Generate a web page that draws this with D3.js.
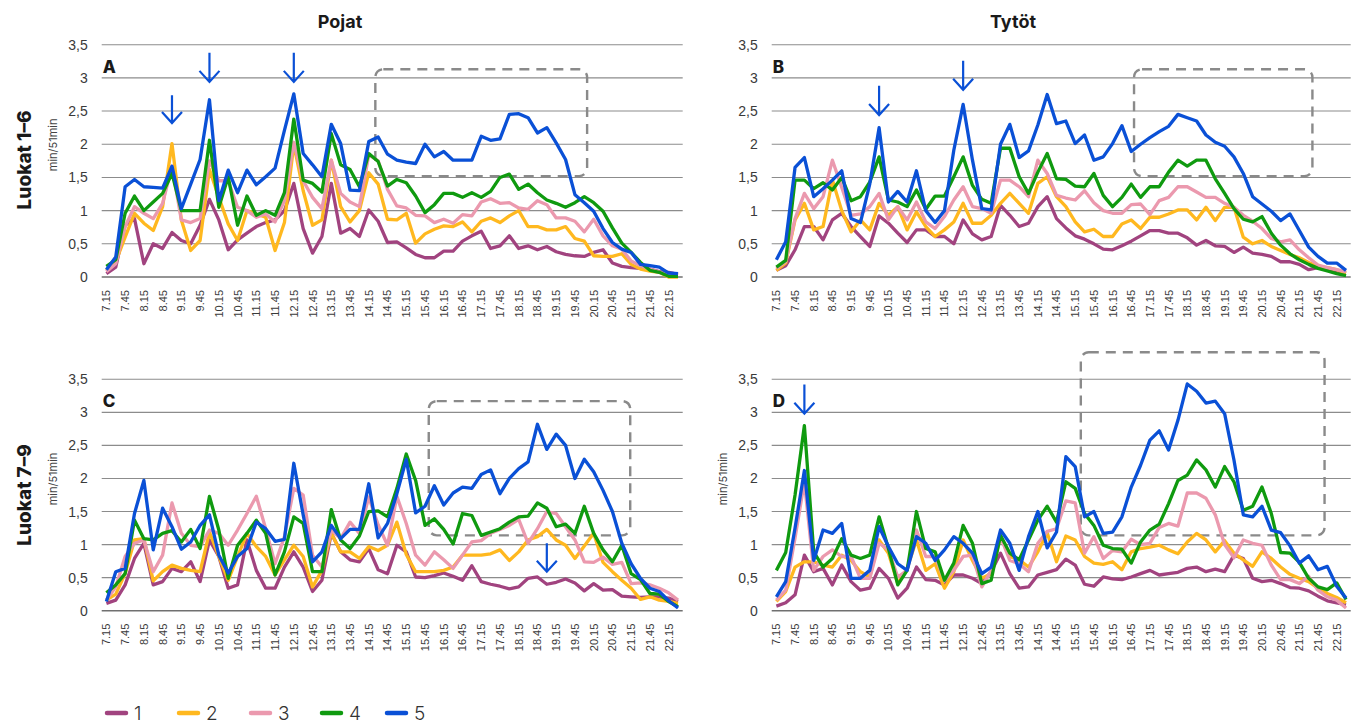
<!DOCTYPE html>
<html>
<head>
<meta charset="utf-8">
<script src="https://cdn.jsdelivr.net/npm/d3@7"></script>
<style>
  body { margin: 0; background: #fff; }
  svg { display: block; font-family: Inter, "Noto Sans", sans-serif; }
</style>
</head>
<body>
<div id="chart"></div>
<script>
// time slots (15 min)
const times = ["7.15","7.30","7.45","8.00","8.15","8.30","8.45","9.00","9.15","9.30",
  "9.45","10.00","10.15","10.30","10.45","11.00","11.15","11.30","11.45","12.00",
  "12.15","12.30","12.45","13.00","13.15","13.30","13.45","14.00","14.15","14.30",
  "14.45","15.00","15.15","15.30","15.45","16.00","16.15","16.30","16.45","17.00",
  "17.15","17.30","17.45","18.00","18.15","18.30","18.45","19.00","19.15","19.30",
  "19.45","20.00","20.15","20.30","20.45","21.00","21.15","21.30","21.45","22.00",
  "22.15","22.30"];
const yTicks = [0, 0.5, 1, 1.5, 2, 2.5, 3, 3.5];
const seriesNames = ["1", "2", "3", "4", "5"];
const colors = ["#a1437f", "#ffb81f", "#eb99ae", "#0f9a0f", "#0a50d6"];

// A: Pojat, luokat 1-6
const A1 = [0.05,0.15,0.78,0.88,0.2,0.5,0.43,0.67,0.55,0.5, 0.78,1.17,0.86,0.41,0.56,0.66,0.76,0.82,0.86,1.0,
  1.41,0.73,0.36,0.61,1.41,0.66,0.73,0.61,1.01,0.84, 0.52,0.53,0.44,0.34,0.29,0.29,0.39,0.39,0.54,0.62,
  0.69,0.43,0.47,0.62,0.43,0.47,0.41,0.46,0.38,0.34, 0.32,0.31,0.37,0.41,0.21,0.16,0.14,0.13,0.12,0.08, 0.07,0.04];
const A2 = [0.1,0.23,0.6,0.96,0.81,0.7,1.06,2.01,0.86,0.4, 0.55,1.62,1.2,0.8,0.55,1.0,0.95,0.9,0.4,0.82,
  2.0,1.3,0.78,0.86,1.76,1.06,0.83,1.0,1.57,1.4, 0.87,0.86,0.96,0.51,0.65,0.72,0.77,0.76,0.83,0.68,
  0.84,0.89,0.82,0.92,1.0,0.76,0.76,0.71,0.71,0.76, 0.58,0.54,0.32,0.31,0.31,0.35,0.19,0.12,0.09,0.07, 0.0,0.0];
const A3 = [0.08,0.2,0.76,1.06,0.96,0.88,1.11,1.67,0.86,0.82, 0.88,1.75,1.45,1.45,1.05,1.0,0.9,0.95,0.83,1.15,
  2.03,1.45,1.2,1.03,1.76,1.26,1.13,1.06,1.84,1.75, 1.32,1.07,1.04,0.93,0.92,0.82,0.87,0.81,0.94,0.92,
  1.13,1.18,1.11,1.12,1.04,1.02,1.15,1.09,0.89,0.89, 0.84,0.68,0.87,0.62,0.47,0.42,0.24,0.17,0.12,0.07, 0.04,0.02];
const A4 = [0.16,0.26,0.96,1.22,1.0,1.13,1.26,1.56,1.0,1.0, 1.0,2.06,1.05,1.51,0.78,1.22,0.93,1.0,0.93,1.27,
  2.38,1.46,1.41,1.28,2.16,1.69,1.62,1.36,1.86,1.74, 1.37,1.47,1.42,1.22,0.97,1.09,1.26,1.26,1.2,1.27,
  1.2,1.29,1.5,1.55,1.32,1.4,1.27,1.16,1.11,1.05, 1.12,1.21,1.12,0.99,0.74,0.51,0.37,0.22,0.1,0.07, 0.01,0.01];
const A5 = [0.11,0.3,1.36,1.47,1.36,1.35,1.34,1.67,1.03,1.4, 1.77,2.67,1.15,1.61,1.27,1.61,1.39,1.51,1.64,2.21,
  2.76,1.86,1.69,1.51,2.3,2.01,1.31,1.3,2.04,2.11, 1.85,1.76,1.73,1.71,2.0,1.81,1.89,1.76,1.76,1.76,
  2.12,2.06,2.08,2.45,2.46,2.4,2.17,2.25,2.02,1.77, 1.24,1.12,0.99,0.73,0.52,0.42,0.37,0.19,0.17,0.15, 0.06,0.05];

// B: Tytöt, luokat 1-6
const B1 = [0.1,0.17,0.41,0.76,0.76,0.56,0.86,0.96,0.76,0.61, 0.46,0.92,0.81,0.66,0.52,0.71,0.71,0.61,0.61,0.5,
  0.86,0.65,0.56,0.61,1.08,0.93,0.76,0.81,1.06,1.21, 0.88,0.74,0.62,0.57,0.5,0.42,0.41,0.47,0.54,0.62,
  0.7,0.7,0.66,0.66,0.59,0.48,0.55,0.47,0.46,0.37, 0.45,0.36,0.34,0.31,0.23,0.23,0.19,0.11,0.14,0.11, 0.09,0.06];
const B2 = [0.1,0.21,0.86,1.11,0.71,0.76,1.46,1.0,0.68,0.86, 0.71,1.11,0.93,1.06,0.71,0.98,0.76,0.61,0.71,0.83,
  1.11,0.81,0.81,0.93,1.11,1.26,1.11,0.96,1.41,1.51, 1.21,1.06,0.83,0.68,0.72,0.61,0.61,0.8,0.86,0.73,
  0.9,0.9,0.95,1.01,1.01,0.86,1.05,0.85,1.05,1.05, 0.6,0.5,0.55,0.46,0.4,0.34,0.29,0.22,0.16,0.14, 0.11,0.06];
const B3 = [0.13,0.23,0.88,1.26,1.03,1.21,1.76,1.35,0.93,0.95, 1.06,1.26,0.86,1.06,0.86,1.13,0.83,0.73,0.91,1.16,
  1.36,1.06,1.03,0.96,1.46,1.46,1.36,1.21,1.76,1.56, 1.23,1.19,1.16,1.3,1.12,1.0,0.96,0.96,1.09,1.1,
  0.94,1.15,1.2,1.36,1.36,1.28,1.2,1.2,1.11,1.05, 0.93,0.84,0.73,0.58,0.53,0.56,0.41,0.29,0.18,0.14, 0.11,0.08];
const B4 = [0.15,0.25,1.46,1.46,1.33,1.42,1.31,1.5,1.15,1.21, 1.43,1.81,1.16,1.13,1.06,1.31,1.02,1.22,1.22,1.51,
  1.81,1.38,1.17,1.11,1.94,1.94,1.51,1.26,1.58,1.86, 1.48,1.47,1.37,1.36,1.56,1.23,1.06,1.2,1.4,1.2,
  1.36,1.36,1.58,1.76,1.67,1.76,1.76,1.48,1.26,1.03, 0.87,0.83,0.91,0.66,0.48,0.35,0.26,0.19,0.13,0.09, 0.05,0.02];
const B5 = [0.26,0.53,1.65,1.8,1.21,1.33,1.46,1.6,0.88,0.82, 1.4,2.25,1.13,1.29,1.13,1.6,1.0,0.82,1.0,1.91,
  2.6,1.76,1.03,1.01,2.0,2.3,1.8,1.9,2.29,2.75, 2.31,2.35,2.01,2.14,1.76,1.81,2.01,2.28,1.89,2.0,
  2.1,2.19,2.27,2.45,2.4,2.35,2.14,2.03,1.97,1.81, 1.56,1.21,1.1,0.99,0.85,0.95,0.7,0.45,0.31,0.21, 0.21,0.1];

// C: Pojat, luokat 7-9
const C1 = [0.11,0.16,0.39,0.79,1.02,0.39,0.44,0.64,0.59,0.74, 0.44,1.07,0.82,0.34,0.39,1.07,0.61,0.34,0.34,0.66,
  0.89,0.66,0.29,0.46,1.17,0.89,0.77,0.74,0.94,0.62, 0.56,0.99,0.89,0.51,0.5,0.53,0.57,0.52,0.46,0.68,
  0.44,0.4,0.37,0.33,0.36,0.49,0.51,0.4,0.43,0.48, 0.42,0.3,0.41,0.31,0.32,0.22,0.21,0.2,0.21,0.21, 0.19,0.14];
const C2 = [0.16,0.25,0.56,1.07,1.09,0.45,0.59,0.69,0.64,0.61, 0.59,1.19,0.82,0.46,0.82,1.17,0.97,0.82,0.54,0.77,
  0.99,0.82,0.36,0.61,1.17,0.89,0.89,0.79,0.97,0.91, 0.99,1.34,0.85,0.59,0.59,0.59,0.61,0.66,0.84,0.84,
  0.84,0.86,0.92,0.76,0.89,1.07,1.12,1.23,1.07,0.99, 0.79,0.98,1.17,0.73,0.59,0.46,0.34,0.17,0.21,0.16, 0.14,0.11];
const C3 = [0.16,0.36,0.82,1.02,1.07,0.59,0.84,1.63,1.17,0.99, 0.97,1.22,1.17,0.99,1.22,1.47,1.73,1.24,0.71,1.12,
  1.85,1.75,0.84,0.66,1.22,1.09,1.34,1.17,1.72,1.3, 0.99,1.73,1.32,0.84,0.69,0.89,0.77,0.64,0.84,1.04,
  1.06,1.17,1.23,1.29,1.38,1.02,1.24,1.5,1.47,1.27, 1.07,0.74,0.73,0.81,0.7,0.73,0.41,0.42,0.39,0.34, 0.27,0.16];
const C4 = [0.27,0.39,0.56,1.37,1.09,1.07,1.17,1.21,1.04,1.23, 0.94,1.73,1.22,0.49,0.99,1.17,1.37,1.17,0.54,0.89,
  1.42,1.32,0.59,0.59,1.53,1.07,0.94,1.13,1.5,1.51, 1.42,1.85,2.37,1.97,1.29,1.39,1.23,1.01,1.47,1.44,
  1.14,1.19,1.24,1.34,1.42,1.43,1.63,1.55,1.27,1.31, 1.17,1.58,1.17,0.92,0.74,0.99,0.56,0.47,0.26,0.25, 0.14,0.06];
const C5 = [0.14,0.59,0.64,1.47,1.97,0.92,1.55,1.27,0.93,1.04, 1.29,1.45,0.84,0.57,0.82,0.94,1.34,1.24,1.05,1.08,
  2.23,1.45,0.74,0.89,1.29,1.09,1.23,1.23,1.92,1.1, 1.32,1.77,2.29,1.48,1.58,1.89,1.6,1.78,1.87,1.85,
  2.06,2.13,1.77,2.0,2.15,2.25,2.82,2.44,2.67,2.5, 2.0,2.29,2.1,1.82,1.5,1.02,0.71,0.49,0.34,0.29, 0.15,0.04];

// D: Tytöt, luokat 7-9
const D1 = [0.07,0.12,0.24,0.84,0.59,0.64,0.39,0.69,0.44,0.31, 0.34,0.64,0.49,0.19,0.34,0.66,0.47,0.46,0.39,0.54,
  0.54,0.49,0.41,0.59,0.87,0.56,0.34,0.36,0.54,0.58, 0.62,0.78,0.69,0.4,0.37,0.51,0.48,0.47,0.51,0.56,
  0.61,0.54,0.56,0.58,0.64,0.66,0.59,0.63,0.59,0.84, 0.79,0.49,0.44,0.46,0.41,0.35,0.34,0.3,0.22,0.15, 0.12,0.09];
const D2 = [0.14,0.29,0.66,0.74,0.74,0.69,0.66,0.84,0.76,0.59, 0.51,1.07,0.87,0.41,0.64,1.07,0.61,0.71,0.34,0.59,
  1.07,0.76,0.49,0.56,1.12,0.82,0.77,0.66,0.89,1.18, 0.74,1.13,1.07,0.82,0.72,0.7,0.74,0.62,0.89,0.94,
  0.96,0.99,0.92,0.86,1.04,1.17,1.07,0.89,1.06,0.87, 0.77,0.67,0.89,0.79,0.66,0.55,0.49,0.44,0.34,0.26, 0.2,0.12];
const D3 = [0.16,0.31,1.1,1.95,0.61,0.82,0.92,0.82,0.82,0.49, 0.49,1.02,0.92,0.51,0.61,1.22,0.82,0.82,0.46,0.61,
  0.82,0.84,0.36,0.61,1.12,0.76,0.71,0.59,1.02,1.2, 1.24,1.66,1.63,0.87,1.12,0.79,0.91,0.89,1.08,1.0,
  1.02,1.26,1.32,1.28,1.78,1.78,1.7,1.45,1.0,0.8, 1.07,1.02,0.99,0.69,0.47,0.47,0.41,0.52,0.31,0.21, 0.16,0.04];
const D4 = [0.61,0.88,1.75,2.8,0.89,0.66,0.79,1.09,0.84,0.79, 0.84,1.42,0.94,0.39,0.61,1.5,0.94,0.89,0.46,0.72,
  1.29,1.02,0.41,0.46,1.14,0.87,0.77,1.07,1.37,1.58, 1.34,1.95,1.85,1.47,1.29,0.99,0.94,0.93,0.72,1.04,
  1.22,1.31,1.62,1.97,2.05,2.28,2.13,1.87,2.18,1.95, 1.52,1.58,1.87,1.47,0.88,0.87,0.73,0.49,0.36,0.32, 0.42,0.17];
const D5 = [0.21,0.44,1.25,2.12,0.76,1.22,1.17,1.32,0.49,0.49, 0.61,1.27,0.97,0.71,0.61,1.12,1.02,0.76,0.92,1.12,
  1.02,0.87,0.56,0.66,1.22,1.02,0.61,1.12,1.5,0.95, 1.19,2.33,2.18,1.42,1.5,1.17,1.19,1.42,1.87,2.2,
  2.58,2.72,2.43,2.88,3.43,3.32,3.14,3.17,2.98,2.28, 1.45,1.42,1.58,1.22,1.18,0.98,0.72,0.83,0.62,0.67, 0.37,0.19];

// annotations: arrows (slot index, value of tail, value of tip), dashed boxes (slot range, value range)
const arrowsA = [[7, 2.74, 2.32], [11, 3.38, 2.94], [20, 3.38, 2.94]];
const arrowsB = [[11, 2.88, 2.44], [20, 3.26, 2.82]];
const arrowsC = [[47, 1.02, 0.59]];
const arrowsD = [[3, 3.42, 2.98]];
const boxA = [28.7, 51.3, 3.13, 1.52];
const boxB = [38.3, 57.4, 3.13, 1.52];
const boxC = [34.4, 55.9, 3.17, 1.14];
const boxD = [32.6, 58.7, 3.91, 1.14];

const panels = [
  { letter: "A", series: [A1, A2, A3, A4, A5], arrows: arrowsA, box: boxA, left: 101.7, right: 682.7, top: 44.7, bottom: 277, unit: true },
  { letter: "B", series: [B1, B2, B3, B4, B5], arrows: arrowsB, box: boxB, left: 771.7, right: 1350.7, top: 44.7, bottom: 277, unit: false },
  { letter: "C", series: [C1, C2, C3, C4, C5], arrows: arrowsC, box: boxC, left: 101.7, right: 682.7, top: 379.3, bottom: 610.7, unit: true },
  { letter: "D", series: [D1, D2, D3, D4, D5], arrows: arrowsD, box: boxD, left: 771.7, right: 1350.7, top: 379.3, bottom: 610.7, unit: true }
];

const svg = d3.select("#chart").append("svg")
  .attr("width", 1360)
  .attr("height", 724);

panels.forEach(p => {
  const x = d3.scaleBand().domain(times).range([p.left, p.right]);
  const xi = i => x(times[0]) + x.bandwidth() / 2 + i * x.step();
  const y = d3.scaleLinear().domain([0, 3.5]).range([p.bottom, p.top]);
  const g = svg.append("g");

  // gridlines
  g.selectAll("line.grid")
    .data(yTicks)
    .join("line")
    .attr("x1", p.left).attr("x2", p.right)
    .attr("y1", d => y(d)).attr("y2", d => y(d))
    .attr("stroke", d => d === 0 ? "#707070" : "#8c8c8c")
    .attr("stroke-width", d => d === 0 ? 1.5 : 1.1);

  // y axis
  g.append("g")
    .attr("transform", `translate(${p.left},0)`)
    .call(d3.axisLeft(y).tickValues(yTicks).tickSize(0).tickPadding(14)
      .tickFormat(d => String(d).replace(".", ",")))
    .call(a => a.select(".domain").remove())
    .selectAll("text")
    .style("font-size", "14px")
    .style("font-weight", 300)
    .attr("fill", "#3a3a3a");

  // x axis
  g.append("g")
    .attr("transform", `translate(0,${p.bottom})`)
    .call(d3.axisBottom(x).tickValues(times.filter((d, i) => i % 2 === 0)).tickSize(0))
    .call(a => a.select(".domain").remove())
    .selectAll("text")
    .attr("transform", "rotate(-90)")
    .attr("text-anchor", "end")
    .attr("x", -13)
    .attr("y", 0)
    .attr("dy", "0.36em")
    .style("font-size", "11px")
    .style("font-weight", 300)
    .attr("fill", "#3a3a3a");

  // unit label
  if (p.unit) {
    g.append("text")
      .attr("transform", `translate(${p.left - 45},${(p.top + p.bottom) / 2 - 16}) rotate(-90)`)
      .attr("text-anchor", "middle")
      .style("font-size", "11px")
      .attr("fill", "#444")
      .text("min/51min");
  }

  // dashed box
  const [b0, b1, v0, v1] = p.box;
  g.append("rect")
    .attr("x", xi(b0)).attr("y", y(v0))
    .attr("width", xi(b1) - xi(b0)).attr("height", y(v1) - y(v0))
    .attr("rx", 8)
    .attr("fill", "none")
    .attr("stroke", "#8a8a8a")
    .attr("stroke-width", 2.4)
    .attr("stroke-dasharray", "10,7");

  // lines
  const line = d3.line()
    .x((d, i) => x(times[i]) + x.bandwidth() / 2)
    .y(d => y(d));
  p.series.forEach((s, k) => {
    g.append("path")
      .datum(s)
      .attr("d", line)
      .attr("fill", "none")
      .attr("stroke", colors[k])
      .attr("stroke-width", 3.3)
      .attr("stroke-linejoin", "round");
  });

  // arrows
  p.arrows.forEach(([i, v0, v1]) => {
    const ax = xi(i), ya = y(v0), yb = y(v1);
    g.append("path")
      .attr("d", `M${ax},${ya}L${ax},${yb}M${ax - 10},${yb - 11}L${ax},${yb}L${ax + 10},${yb - 11}`)
      .attr("fill", "none")
      .attr("stroke", colors[4])
      .attr("stroke-width", 2.2);
  });

  // panel letter
  g.append("text")
    .attr("x", p.left + 1)
    .attr("y", p.top + 28)
    .style("font-size", "17px")
    .style("font-weight", 800)
    .attr("fill", "#1a1a1a")
    .text(p.letter);
});

// column titles
svg.append("text").attr("x", 340).attr("y", 28).attr("text-anchor", "middle")
  .style("font-size", "18px").style("font-weight", 700).attr("fill", "#1a1a1a").text("Pojat");
svg.append("text").attr("x", 1013).attr("y", 28).attr("text-anchor", "middle")
  .style("font-size", "18px").style("font-weight", 700).attr("fill", "#1a1a1a").text("Tytöt");

// row titles
[["Luokat 1–6", 160], ["Luokat 7–9", 495]].forEach(([t, cy]) => {
  svg.append("text")
    .attr("transform", `translate(31,${cy}) rotate(-90)`)
    .attr("text-anchor", "middle")
    .style("font-size", "19px").style("font-weight", 800)
    .attr("fill", "#1a1a1a")
    .text(t);
});

// legend
const legendX = [105, 177, 249, 320, 385];
const legend = svg.append("g").attr("transform", "translate(0,713)");
seriesNames.forEach((n, k) => {
  legend.append("line")
    .attr("x1", legendX[k] + 2).attr("x2", legendX[k] + 21)
    .attr("stroke", colors[k]).attr("stroke-width", 4.5).attr("stroke-linecap", "round");
  legend.append("text")
    .attr("x", legendX[k] + 29).attr("y", 0).attr("dy", "0.35em")
    .style("font-size", "19px").style("font-weight", 300)
    .attr("fill", "#333")
    .text(n);
});
</script>
</body>
</html>
